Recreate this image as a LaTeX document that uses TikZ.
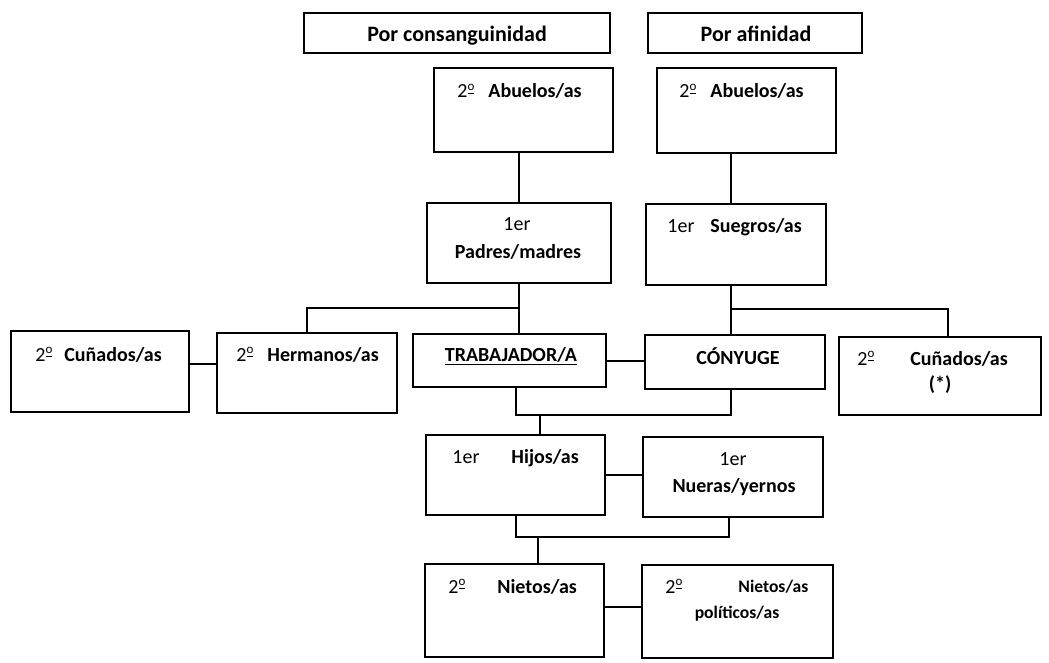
\documentclass[tikz,border=0pt]{standalone}
\usepackage{fontspec}
\setmainfont{Carlito}
\usetikzlibrary{positioning}
\newcommand{\ordo}{\raisebox{0.75ex}{\fontsize{6.5}{7}\selectfont\underline{o}}}
\tikzset{
	caja/.style={draw, line width=1pt, inner sep=0pt, outer sep=0pt},
	linea/.style={line width=1pt},
	etq/.style={inner sep=0pt, anchor=base, font=\fontsize{10}{12}\selectfont},
	etqw/.style={etq, anchor=base west},
}

\begin{document}
\begin{tikzpicture}[x=0.5pt,y=-0.5pt]
	\useasboundingbox (0,0) rectangle (1049,663);
	% cabeceras
	\node[caja, minimum width=153pt, minimum height=20pt] (consang) at (457,33) {};
	\node[caja, minimum width=107pt, minimum height=20pt] (afin) at (755,33) {};
	\node[etq, font=\fontsize{11}{13}\selectfont\bfseries] (tconsang) at (457,42) {Por consanguinidad};
	\node[etq, font=\fontsize{11}{13}\selectfont\bfseries] (tafin) at (756,42) {Por afinidad};
	
	% cajas
	\node[caja, minimum width=89.5pt, minimum height=42pt] (abueC) at (523.5,110) {};
	\node[caja, minimum width=89.5pt, minimum height=42.5pt] (abueA) at (746.5,110.5) {};
	\node[caja, minimum width=92pt, minimum height=40pt] (padres) at (519,243) {};
	\node[caja, minimum width=90pt, minimum height=40.5pt] (suegros) at (736,244.5) {};
	\node[caja, minimum width=89pt, minimum height=40.5pt] (cunI) at (100,371.5) {};
	\node[caja, minimum width=90pt, minimum height=40pt] (herm) at (307,373) {};
	\node[caja, minimum width=96.5pt, minimum height=26.5pt] (trab) at (509.5,360.5) {};
	\node[caja, minimum width=90pt, minimum height=27pt] (cony) at (735,362) {};
	\node[caja, minimum width=101pt, minimum height=39pt] (cunD) at (940,376) {};
	\node[caja, minimum width=89.5pt, minimum height=40pt] (hijos) at (515.5,475) {};
	\node[caja, minimum width=90pt, minimum height=40pt] (nueras) at (733,477) {};
	\node[caja, minimum width=89.5pt, minimum height=46.5pt] (nietos) at (514.5,610.5) {};
	\node[caja, minimum width=95.5pt, minimum height=46.5pt] (nietP) at (737.5,611.5) {};
	
	% textos
	\node[etqw] (tabueC) at (457,98) {2\ordo\hspace{7pt}\textbf{Abuelos/as}};
	\node[etqw] (tabueA) at (679,98) {2\ordo\hspace{7pt}\textbf{Abuelos/as}};
	\node[etq] (tpadres1) at (517,231) {1er};
	\node[etq] (tpadres2) at (518,258) {\textbf{Padres/madres}};
	\node[etqw] (tsuegros) at (667,233) {1er\hspace{8pt}\textbf{Suegros/as}};
	\node[etqw] (tcunI) at (35,361) {2\ordo\hspace{6pt}\textbf{Cuñados/as}};
	\node[etqw] (therm) at (236,361) {2\ordo\hspace{7pt}\textbf{Hermanos/as}};
	\node[etq] (ttrab) at (511,361) {\textbf{\underline{TRABAJADOR/A}}};
	\node[etq] (tcony) at (738,364) {\textbf{CÓNYUGE}};
	\node[etqw] (tcunD) at (857,365) {2\ordo\hspace{18pt}\textbf{Cuñados/as}};
	\node[etq] (tcunD2) at (940,390) {\textbf{(*)}};
	\node[etqw] (thijos) at (452,463) {1er\hspace{16pt}\textbf{Hijos/as}};
	\node[etq] (tnueras1) at (733,465) {1er};
	\node[etq] (tnueras2) at (734,492) {\textbf{Nueras/yernos}};
	\node[etqw] (tnietos) at (448,593) {2\ordo\hspace{16pt}\textbf{Nietos/as}};
	\node[etqw] (tnietP) at (665,593) {2\ordo};
	\node[etqw, font=\fontsize{8.8}{10}\selectfont\bfseries] (tnietP2) at (738,592) {Nietos/as};
	\node[etq, font=\fontsize{8.8}{10}\selectfont\bfseries] (tnietP3) at (737,618) {políticos/as};
	
	% conexiones
	\draw[linea] (padres.north) -- (padres.north |- abueC.south);
	\draw[linea] ([xshift=-2.5pt]suegros.north) -- ([xshift=-2.5pt]suegros.north |- abueA.south);
	\coordinate (ramaC) at (519,308);
	\coordinate (ramaA) at (731,309);
	\draw[linea] (padres.south) -- (padres.south |- trab.north);
	\draw[linea] (ramaC) -| (herm.north);
	\draw[linea] ([xshift=-2.5pt]suegros.south) -- ([xshift=-2.5pt]suegros.south |- cony.north);
	\draw[linea] (ramaA) -| ([xshift=4pt]cunD.north);
	\draw[linea] ([yshift=4pt]cunI.east) -- ([yshift=4pt]cunI.east -| herm.west);
	\draw[linea] (trab.east) -- (trab.east -| cony.west);
	\coordinate (pareja) at (540,415);
	\draw[linea] ([xshift=3pt]trab.south) |- (pareja) -| ([xshift=-2pt]cony.south);
	\draw[linea] (pareja) -- (pareja |- hijos.north);
	\draw[linea] (hijos.east) -- (hijos.east -| nueras.west);
	\coordinate (hijosU) at (538,537);
	\draw[linea] (hijos.south) |- (hijosU) -| ([xshift=-2pt]nueras.south);
	\draw[linea] (hijosU) -- (hijosU |- nietos.north);
	\draw[linea] ([yshift=2pt]nietos.east) -- ([yshift=2pt]nietos.east -| nietP.west);
\end{tikzpicture}
\end{document}
